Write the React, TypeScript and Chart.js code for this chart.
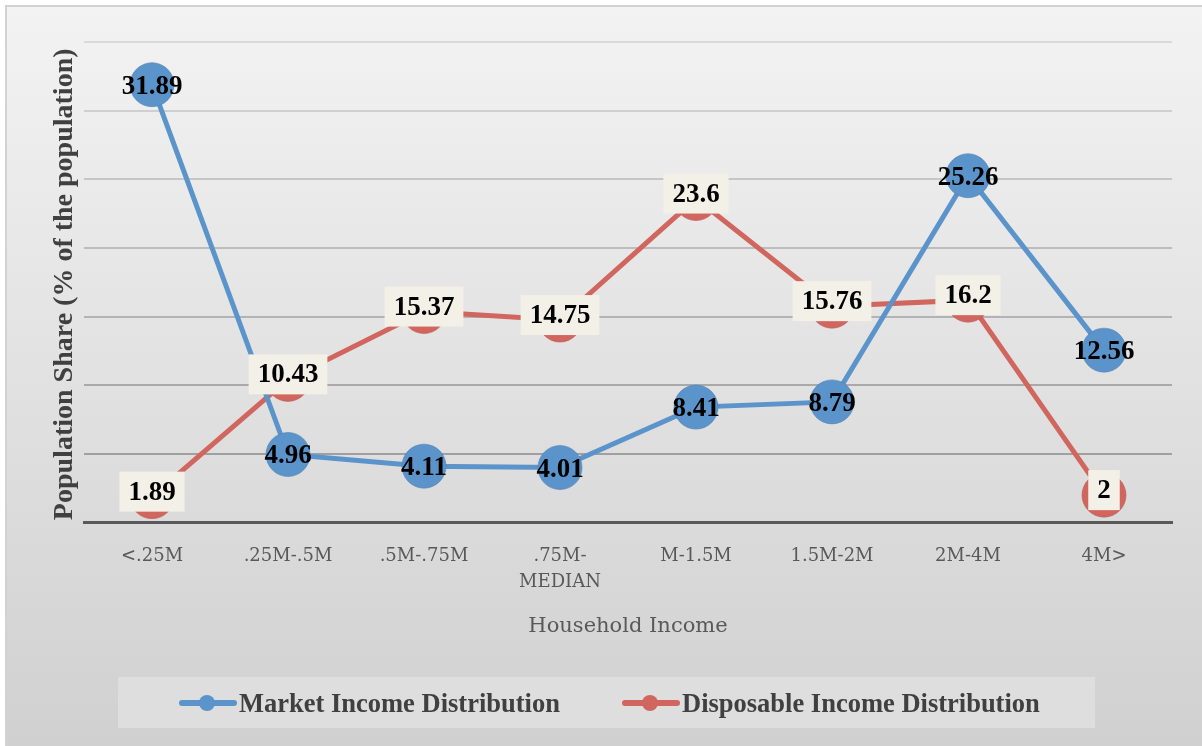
import React, { useEffect, useRef } from "react";
import { Chart, registerables } from "chart.js";

Chart.register(...registerables);

const categories: (string | string[])[] = ["<.25M", ".25M-.5M", ".5M-.75M", [".75M-", "MEDIAN"], "M-1.5M", "1.5M-2M", "2M-4M", "4M>"];
const marketIncome = [31.89, 4.96, 4.11, 4.01, 8.41, 8.79, 25.26, 12.56];
const disposableIncome = [1.89, 10.43, 15.37, 14.75, 23.6, 15.76, 16.2, 2];
const seriesNames = ["Market Income Distribution", "Disposable Income Distribution"];
const yMin = 0;
const yMax = 35;
const yStep = 5;

const BLUE = "#5b94ca";
const RED = "#d0665e";

function mix(a: number[], b: number[], t: number) {
  const c = a.map((v, i) => Math.round(v + (b[i] - v) * t));
  return `rgb(${c[0]},${c[1]},${c[2]})`;
}

const backgroundPlugin = {
  id: "bgPlugin",
  beforeDraw(chart: any) {
    const { ctx, width, height } = chart;
    ctx.save();
    ctx.fillStyle = "#ffffff";
    ctx.fillRect(0, 0, width, height);
    const g = ctx.createLinearGradient(0, 6, 0, height);
    g.addColorStop(0, "#f3f3f3");
    g.addColorStop(1, "#d0d0d0");
    ctx.fillStyle = g;
    ctx.fillRect(6, 6, width - 6, height - 6);
    ctx.strokeStyle = "#d2d2d2";
    ctx.lineWidth = 2;
    ctx.beginPath();
    ctx.moveTo(6, height);
    ctx.lineTo(6, 6);
    ctx.lineTo(width, 6);
    ctx.stroke();
    ctx.restore();
  },
};

const labelsPlugin = {
  id: "labelsPlugin",
  afterDatasetsDraw(chart: any) {
    const { ctx } = chart;
    ctx.save();
    ctx.font = "bold 27px 'Liberation Serif'";
    ctx.textAlign = "center";
    ctx.textBaseline = "middle";
    [1, 0].forEach((di) => {
      const meta = chart.getDatasetMeta(di);
      const data = chart.data.datasets[di].data as number[];
      meta.data.forEach((el: any, i: number) => {
        const txt = String(data[i]);
        const w = ctx.measureText(txt).width;
        if (di === 1) {
          ctx.fillStyle = "#f3f0e8";
          ctx.fillRect(el.x - w / 2 - 9, el.y - 25, w + 18, 40);
          ctx.fillStyle = "#000000";
          ctx.fillText(txt, el.x, el.y - 4);
        } else {
          ctx.fillStyle = "#000000";
          ctx.fillText(txt, el.x, el.y + 2);
        }
      });
    });
    ctx.restore();
  },
  afterDraw(chart: any) {
    const { ctx, chartArea } = chart;
    ctx.save();
    ctx.translate(65, (chartArea.top + chartArea.bottom) / 2 + 2);
    ctx.rotate(-Math.PI / 2);
    ctx.font = "bold 28px 'Liberation Serif'";
    ctx.fillStyle = "#404040";
    ctx.textAlign = "center";
    ctx.textBaseline = "middle";
    ctx.fillText("Population Share (% of the population)", 0, 0);
    ctx.restore();

    ctx.save();
    ctx.fillStyle = "#dedede";
    ctx.fillRect(118, 677, 977, 51);
    const items = [
      { color: BLUE, x: 179, label: seriesNames[0] },
      { color: RED, x: 622, label: seriesNames[1] },
    ];
    const cy = 703;
    ctx.font = "bold 26.5px 'Liberation Serif'";
    ctx.textBaseline = "middle";
    ctx.textAlign = "left";
    items.forEach((it) => {
      ctx.strokeStyle = it.color;
      ctx.lineWidth = 6;
      ctx.lineCap = "round";
      ctx.beginPath();
      ctx.moveTo(it.x + 3, cy);
      ctx.lineTo(it.x + 55, cy);
      ctx.stroke();
      ctx.fillStyle = it.color;
      ctx.beginPath();
      ctx.arc(it.x + 28, cy, 8, 0, Math.PI * 2);
      ctx.fill();
      ctx.fillStyle = "#404040";
      ctx.fillText(it.label, it.x + 60, cy + 2);
    });
    ctx.restore();
  },
};

export default function App() {
  const canvasRef = useRef<HTMLCanvasElement | null>(null);

  useEffect(() => {
    if (!canvasRef.current) return;
    const light = [217, 217, 217];
    const dark = [150, 150, 150];
    const chart = new Chart(canvasRef.current, {
      type: "line",
      data: {
        labels: categories as any,
        datasets: [
          {
            label: seriesNames[0],
            data: marketIncome,
            borderColor: BLUE,
            backgroundColor: BLUE,
            borderWidth: 5,
            pointRadius: 22,
            pointBackgroundColor: BLUE,
            pointBorderColor: "rgba(80,130,180,0.6)",
            pointBorderWidth: 1,
            tension: 0,
          },
          {
            label: seriesNames[1],
            data: disposableIncome,
            borderColor: RED,
            backgroundColor: RED,
            borderWidth: 5,
            pointRadius: 22,
            pointBackgroundColor: RED,
            pointBorderColor: "rgba(190,90,85,0.6)",
            pointBorderWidth: 1,
            tension: 0,
          },
        ],
      },
      options: {
        animation: false,
        responsive: true,
        maintainAspectRatio: false,
        layout: { padding: { left: 84, right: 30, top: 42, bottom: 107 } },
        plugins: {
          legend: { display: false },
          tooltip: { enabled: false },
        },
        scales: {
          x: {
            offset: true,
            grid: { display: false, drawTicks: false },
            border: { display: true, color: "#595959", width: 3 },
            ticks: {
              color: "#595959",
              font: { family: "'DejaVu Serif'", size: 18, lineHeight: 1.45 },
              padding: 21,
              maxRotation: 0,
              autoSkip: false,
            },
            title: {
              display: true,
              text: "Household Income",
              color: "#595959",
              font: { family: "'DejaVu Serif'", size: 21 },
              padding: { top: -3, bottom: 0 },
            },
          },
          y: {
            min: yMin,
            max: yMax,
            ticks: { stepSize: yStep, display: false },
            border: { display: false },
            grid: {
              drawTicks: false,
              lineWidth: 2,
              color: (c: any) => {
                const v = c.tick ? c.tick.value : 0;
                if (v === 0) return "#595959";
                return mix(dark, light, v / yMax);
              },
            },
          },
        },
      },
      plugins: [backgroundPlugin, labelsPlugin],
    });
    return () => chart.destroy();
  }, []);

  return (
    <div style={{ position: "absolute", left: 0, top: 0, width: 1202, height: 746 }}>
      <canvas ref={canvasRef} />
    </div>
  );
}
